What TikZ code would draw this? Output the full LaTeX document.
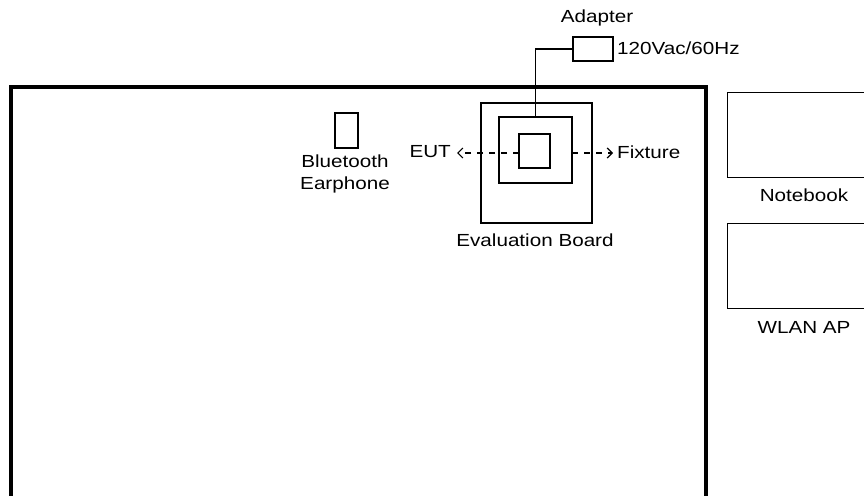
\documentclass[tikz,border=0pt]{standalone}
\usepackage{fontspec}
\setmainfont[FakeStretch=1.18]{Liberation Sans}
\usetikzlibrary{arrows.meta}
\begin{document}
\begin{tikzpicture}[x=1pt,y=-1pt,
  box/.style={draw,line width=1.2pt,inner sep=0pt,outer sep=0pt},
  lbl/.style={font=\fontsize{17.5}{22}\selectfont,inner sep=0pt},
  wire/.style={line width=1.2pt},
  dashline/.style={line width=1.2pt,dash pattern=on 6pt off 6pt,-{Straight Barb[length=5pt,width=10pt]}}]
\useasboundingbox (0,0) rectangle (864,495);
\clip (0,0) rectangle (864,495);
% room
\draw[line width=3.5pt] (11,520) -- (11,87) -- (706,87) -- (706,520);
% adapter
\node[box,minimum width=40pt,minimum height=24pt] (adapter) at (593,49) {};
\node[lbl] (adapterlbl) at (597,18) {Adapter};
\node[lbl,anchor=west] (voltlbl) at (617,48) {120Vac/60Hz};
% evaluation board
\node[box,minimum width=111pt,minimum height=120pt] (outer) at (536.5,163) {};
\node[box,line width=1.6pt,minimum width=73pt,minimum height=66pt] (middle) at (535.5,150) {};
\node[box,line width=1.6pt,minimum width=31pt,minimum height=34pt] (inner) at (534.5,151) {};
\node[lbl] (evallbl) at (535,240) {Evaluation Board};
\draw[wire] (adapter.west) -| (middle.north);
% EUT / Fixture
\node[lbl,anchor=east] (eutlbl) at (451,152) {EUT};
\node[lbl,anchor=west] (fixlbl) at (617,152) {Fixture};
\coordinate (euttip) at (457,153);
\coordinate (fixtip) at (613,153);
\draw[dashline] (inner.west |- euttip) -- (euttip);
\draw[dashline] (middle.east |- fixtip) -- (fixtip);
% bluetooth earphone
\node[box,minimum width=23pt,minimum height=35pt] (ear) at (346.5,130.5) {};
\node[lbl,align=center] (earlbl) at (345,174) {Bluetooth\\Earphone};
% notebook and WLAN AP
\node[box,line width=1pt,minimum width=173pt,minimum height=85pt] (notebook) at (813.5,134.5) {};
\node[lbl] (notelbl) at (804,195) {Notebook};
\node[box,line width=1pt,minimum width=173pt,minimum height=85pt] (wlan) at (813.5,265.5) {};
\node[lbl] (wlanlbl) at (804,327) {WLAN AP};
\end{tikzpicture}
\end{document}
